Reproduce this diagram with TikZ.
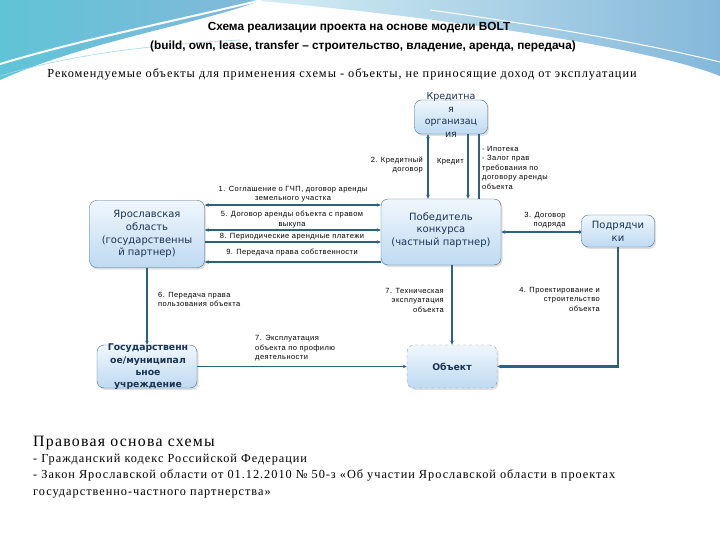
\documentclass[tikz,border=0pt]{standalone}
\usepackage{fontspec}
\setmainfont{Liberation Serif}
\newfontfamily\boxfont{DejaVu Sans}
\newfontfamily\lblfont[LetterSpace=6]{Liberation Sans}
\newfontfamily\headfont{Liberation Sans}
\newfontfamily\bodyfont[LetterSpace=8]{Liberation Serif}
\usetikzlibrary{arrows.meta,shadows}

\definecolor{lnc}{RGB}{44,98,124}
\definecolor{boxtxt}{RGB}{27,52,84}
\definecolor{boxedge}{RGB}{70,110,140}
\definecolor{boxtop}{RGB}{240,247,253}
\definecolor{boxbot}{RGB}{190,218,242}
\definecolor{wavea}{RGB}{96,196,214}
\definecolor{waveb}{RGB}{132,184,218}
\definecolor{wavec}{RGB}{214,238,244}

\begin{document}
\begin{tikzpicture}[x=1pt,y=-1pt,>={Stealth[length=4pt,width=3.5pt]},
 box/.style={draw=boxedge,rounded corners=7pt,top color=boxtop,bottom color=boxbot,
   drop shadow={opacity=0.25,shadow xshift=1.5pt,shadow yshift=-2pt}},
 objbox/.style={box,draw=boxedge!70,dashed},
 btxt/.style={font=\boxfont\fontsize{10}{12.8}\selectfont,text=boxtxt,align=center,inner sep=0pt},
 bbold/.style={btxt,font=\boxfont\bfseries\fontsize{9.3}{12.3}\selectfont},
 lbl/.style={font=\lblfont\fontsize{7.5}{9.5}\selectfont,inner sep=0pt},
 law/.style={anchor=base west,inner sep=0pt,font=\bodyfont\fontsize{12.3}{16}\selectfont},
 ln/.style={draw=lnc,line width=1.6pt},
 lnb/.style={draw=lnc,line width=2.4pt}]
\useasboundingbox (0,0) rectangle (720,540);
\fill[white] (0,0) rectangle (720,540);
% header waves
\shade[left color=wavea,right color=waveb] (0,0) -- (262,0) .. controls (200,24) and (90,40) .. (0,80) -- cycle;
\shade[left color=wavec,right color=waveb] (250,0) -- (720,0) -- (720,76) .. controls (650,48) and (450,18) .. (250,0) -- cycle;
\draw[white,line width=2pt] (0,64) .. controls (80,40) and (170,22) .. (262,0);
\draw[white,line width=1pt] (430,10) .. controls (560,28) and (650,45) .. (720,62);
\draw[wavea!60,line width=0.6pt] (0,76) .. controls (60,58) and (130,46) .. (240,40);

% titles
\node[font=\headfont\bfseries\fontsize{11.8}{14}\selectfont] (ttl1) at (359,28) {Схема реализации проекта на основе модели BOLT};
\node[font=\headfont\bfseries\fontsize{11.8}{14}\selectfont] (ttl2) at (363,46) {(build, own, lease, transfer – строительство, владение, аренда, передача)};
\node[font=\bodyfont\fontsize{12.3}{14}\selectfont] (rec) at (342,74) {Рекомендуемые объекты для применения схемы - объекты, не приносящие доход от эксплуатации};

% participants
\node[box,minimum width=73pt,minimum height=34pt] (bank) at (451,117) {};
\node[btxt,font=\boxfont\fontsize{9.5}{12.5}\selectfont] (bankT) at (451,115) {Кредитна\\я\\организац\\ия};
\node[box,minimum width=115pt,minimum height=67pt] (region) at (147,234) {};
\node[btxt] (regionT) at (region) {Ярославская\\область\\(государственны\\й партнер)};
\node[box,minimum width=120pt,minimum height=66pt] (winner) at (441,232) {};
\node[btxt] (winnerT) at (441,230) {Победитель\\конкурса\\(частный партнер)};
\node[box,minimum width=73pt,minimum height=32pt] (contr) at (618,231) {};
\node[btxt] (contrT) at (contr) {Подрядчи\\ки};
\node[box,minimum width=100pt,minimum height=43pt] (gov) at (147,366.5) {};
\node[bbold] (govT) at (148,367) {Государственн\\ое/муниципал\\ьное\\учреждение};
\node[objbox,minimum width=90pt,minimum height=43pt] (obj) at (452,366.5) {};
\node[bbold] (objT) at (obj) {Объект};

% credit links
\draw[ln,<->] ([xshift=-23pt]bank.south) -- ([xshift=-13pt]winner.north);
\draw[ln,->] ([xshift=17pt]bank.south) -- ([xshift=27pt]winner.north);
\draw[lnb] ([xshift=38pt]winner.north) -- ([xshift=28pt]bank.south);
\node[lbl,align=right,anchor=east] (credL) at (423,165) {2. Кредитный\\договор};
\node[lbl,anchor=east] (credM) at (464,162) {Кредит};
\node[lbl,align=left,anchor=north west] (credR) at (482,146) {- Ипотека\\- Залог прав\\требования по\\договору аренды\\объекта};

% region <-> winner
\draw[ln,<->] ([yshift=29pt]region.east) -- ([yshift=27pt]winner.west);
\draw[ln,<->] ([yshift=4pt]region.east) -- ([yshift=2pt]winner.west);
\draw[ln,->] ([yshift=-8pt]region.east) -- ([yshift=-10pt]winner.west);
\draw[ln,<-] ([yshift=-28pt]region.east) -- ([yshift=-30pt]winner.west);
\node[lbl,align=center] (l1) at (293,194) {1. Соглашение о ГЧП, договор аренды\\земельного участка};
\node[lbl,align=center] (l5) at (292,219.5) {5. Договор аренды объекта с правом\\выкупа};
\node[lbl] (l8) at (292,237) {8. Периодические арендные платежи};
\node[lbl] (l9) at (292,253) {9. Передача права собственности};

% winner <-> contractors
\draw[ln,{Stealth[length=4pt,width=3.5pt]}-{Circle[length=3pt]}] (winner.east) -- (contr.west |- winner.east);
\node[lbl,align=right] (l3) at (545,220) {3. Договор\\подряда};

% object links
\draw[lnb,->] (contr.south) |- (obj.east);
\node[lbl,align=right,anchor=east] (l4) at (600,299) {4. Проектирование и\\строительство\\объекта};
\draw[ln,->] ([xshift=11pt]winner.south) -- (obj.north);
\node[lbl,align=right,anchor=east] (l7t) at (444,300) {7. Техническая\\эксплуатация\\объекта};
\draw[ln,->] (region.south) -- (gov.north);
\node[lbl,align=left,anchor=west] (l6) at (158,299.5) {6. Передача права\\пользования объекта};
\draw[ln,->] (gov.east) -- (obj.west);
\node[lbl,align=left,anchor=west] (l7e) at (255,348.5) {7. Эксплуатация\\объекта по профилю\\деятельности};

% legal basis
\node[law,font=\bodyfont\fontsize{15.8}{18}\selectfont] (legal) at (33,446) {Правовая основа схемы};
\node[law] (law1) at (33,462) {- Гражданский кодекс Российской Федерации};
\node[law] (law2) at (33,478) {- Закон Ярославской области от 01.12.2010 № 50-з «Об участии Ярославской области в проектах};
\node[law] (law3) at (33,495) {государственно-частного партнерства»};
\end{tikzpicture}
\end{document}
